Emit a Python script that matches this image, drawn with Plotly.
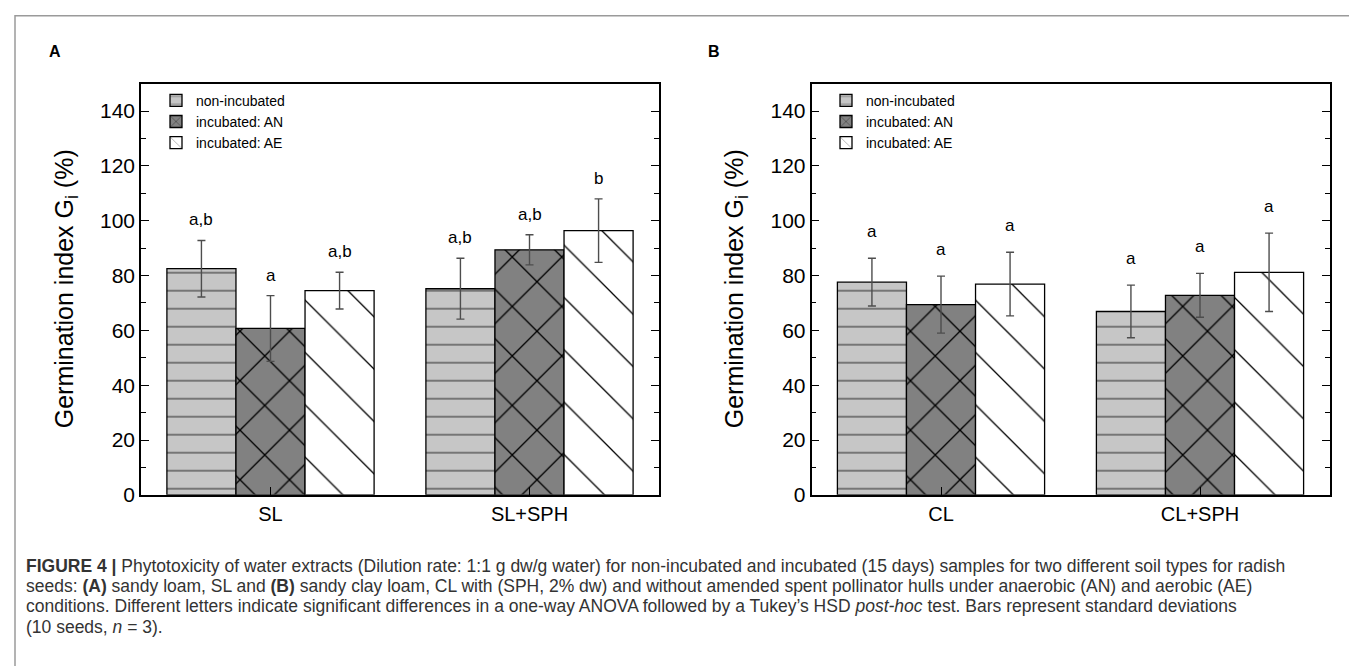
import plotly.graph_objects as go

# ---------------- data ----------------
categories_a = ["SL", "SL+SPH"]
categories_b = ["CL", "CL+SPH"]
series_names = ["non-incubated", "incubated: AN", "incubated: AE"]

a_non = [82.5, 75.2]
a_non_sd = [10.3, 11.1]
a_an = [60.7, 89.4]
a_an_sd = [12.0, 5.5]
a_ae = [74.5, 96.4]
a_ae_sd = [6.7, 11.6]

b_non = [77.6, 66.9]
b_non_sd = [8.7, 9.6]
b_an = [69.4, 72.8]
b_an_sd = [10.4, 8.0]
b_ae = [76.9, 81.2]
b_ae_sd = [11.6, 14.3]

letters_a_non = ["a,b", "a,b"]
letters_a_an = ["a", "a,b"]
letters_a_ae = ["a,b", "b"]
letters_b_non = ["a", "a"]
letters_b_an = ["a", "a"]
letters_b_ae = ["a", "a"]

y_ticks = [0, 20, 40, 60, 80, 100, 120, 140]

caption_lines = [
    "<b>FIGURE 4 |</b> Phytotoxicity of water extracts (Dilution rate: 1:1 g dw/g water) for non-incubated and incubated (15 days) samples for two different soil types for radish",
    "seeds: <b>(A)</b> sandy loam, SL and <b>(B)</b> sandy clay loam, CL with (SPH, 2% dw) and without amended spent pollinator hulls under anaerobic (AN) and aerobic (AE)",
    "conditions. Different letters indicate significant differences in a one-way ANOVA followed by a Tukey\u2019s HSD <i>post-hoc</i> test. Bars represent standard deviations",
    "(10 seeds, <i>n</i> = 3).",
]

# ---------------- styles ----------------
W, H = 1357, 666
FONT = "Liberation Sans, Arial, sans-serif"
styles = [
    dict(bg="#c6c6c6", fg="#505050", shape="-", size=18, solidity=0.075),
    dict(bg="#818181", fg="#000000", shape="x", size=35, solidity=0.075),
    dict(bg="#ffffff", fg="#000000", shape="\\", size=37, solidity=0.035),
]

panel_a = [(a_non, a_non_sd, letters_a_non), (a_an, a_an_sd, letters_a_an), (a_ae, a_ae_sd, letters_a_ae)]
panel_b = [(b_non, b_non_sd, letters_b_non), (b_an, b_an_sd, letters_b_an), (b_ae, b_ae_sd, letters_b_ae)]

fig = go.Figure()
annotations = []

def px_x(p):
    return p / W

def px_y(p):
    return 1 - p / H

for panel, cats, xa, ya, leg, yshift in [
    (panel_a, categories_a, "x", "y", "legend", 9),
    (panel_b, categories_b, "x2", "y2", "legend2", 15),
]:
    for j, (vals, sds, letters) in enumerate(panel):
        st = styles[j]
        fig.add_trace(go.Bar(
            x=cats, y=vals, name=series_names[j],
            xaxis=xa, yaxis=ya, legend=leg,
            marker=dict(
                color=st["bg"],
                line=dict(color="#000000", width=1.3),
                pattern=dict(shape=st["shape"], size=st["size"], solidity=st["solidity"],
                             fgcolor=st["fg"], bgcolor=st["bg"], fgopacity=1,
                             fillmode="overlay"),
            ),
            error_y=dict(type="data", array=sds, visible=True, color="#4d4d4d",
                         thickness=1.4, width=4),
        ))
        for i in range(len(cats)):
            annotations.append(dict(
                x=i + (j - 1) * 0.8 / 3, y=vals[i] + sds[i], xref=xa, yref=ya,
                text=letters[i], showarrow=False, yanchor="bottom", yshift=yshift,
                font=dict(family=FONT, size=17, color="#000000"),
            ))

ydom = [px_y(495), px_y(77)]
xdom_a = [px_x(133), px_x(651)]
xdom_b = [px_x(803.5), px_x(1321.5)]

axis_common = dict(
    showline=True, linecolor="#000000", linewidth=1.5,
    ticks="inside", tickcolor="#000000", tickwidth=1.2, showgrid=False, zeroline=False,
)
yaxis_common = dict(
    axis_common, mirror="ticks", range=[0, 150], tickvals=y_ticks, ticklen=8,
    minor=dict(dtick=10, ticks="inside", ticklen=5, tickcolor="#000000", tickwidth=1.2),
    tickfont=dict(family=FONT, size=21, color="#000000"),
)
xaxis_common = dict(
    axis_common, mirror=True, range=[-0.5, 1.5], ticklen=8, type="category",
    tickfont=dict(family=FONT, size=20, color="#000000"),
)
top_axis = dict(side="top", range=[-0.5, 1.5], tickvals=[0.5],
                ticks="inside", ticklen=8, tickwidth=1.2, tickcolor="#000000",
                showticklabels=False, showgrid=False, zeroline=False, showline=False)
legend_common = dict(xanchor="left", yanchor="top", bgcolor="rgba(0,0,0,0)",
                     font=dict(family=FONT, size=14, color="#000000"),
                     tracegroupgap=0, itemwidth=30)

fig.update_layout(
    width=W, height=H, margin=dict(l=0, r=0, t=0, b=0),
    paper_bgcolor="#ffffff", plot_bgcolor="#ffffff",
    barmode="group", bargap=0.2, bargroupgap=0,
    xaxis=dict(xaxis_common, domain=xdom_a, anchor="y"),
    yaxis=dict(yaxis_common, domain=ydom, anchor="x"),
    xaxis2=dict(xaxis_common, domain=xdom_b, anchor="y2"),
    yaxis2=dict(yaxis_common, domain=ydom, anchor="x2"),
    xaxis3=dict(top_axis, overlaying="x", anchor="y"),
    xaxis4=dict(top_axis, overlaying="x2", anchor="y2"),
    legend=dict(legend_common, x=px_x(148), y=px_y(78)),
    legend2=dict(legend_common, x=px_x(818), y=px_y(78)),
    showlegend=True,
)

# axis titles, panel letters, caption
for xc in [58, 728]:
    annotations.append(dict(
        x=px_x(xc), y=px_y(286), xref="paper", yref="paper", showarrow=False,
        text="Germination index G<sub>i</sub> (%)", textangle=-90,
        xanchor="center", yanchor="middle",
        font=dict(family=FONT, size=25, color="#000000"),
    ))
for lab, xc in [("A", 47), ("B", 706)]:
    annotations.append(dict(
        x=px_x(xc), y=px_y(44), xref="paper", yref="paper", showarrow=False,
        text="<b>" + lab + "</b>", xanchor="center", yanchor="middle",
        font=dict(family=FONT, size=16, color="#000000"),
    ))
for k, line in enumerate(caption_lines):
    annotations.append(dict(
        x=px_x(16), y=px_y(567 + k * 20.7), xref="paper", yref="paper", showarrow=False,
        text=line, xanchor="left", yanchor="middle", align="left",
        font=dict(family=FONT, size=17.5, color="#333333"),
    ))
fig.update_layout(annotations=annotations)

# outer frame of the figure
fig.add_shape(type="rect", xref="paper", yref="paper",
              x0=px_x(7), x1=px_x(1354), y0=-0.1, y1=px_y(8),
              line=dict(color="#9a9a9a", width=1.5), fillcolor="rgba(0,0,0,0)", layer="below")

fig.write_html("out.html")
